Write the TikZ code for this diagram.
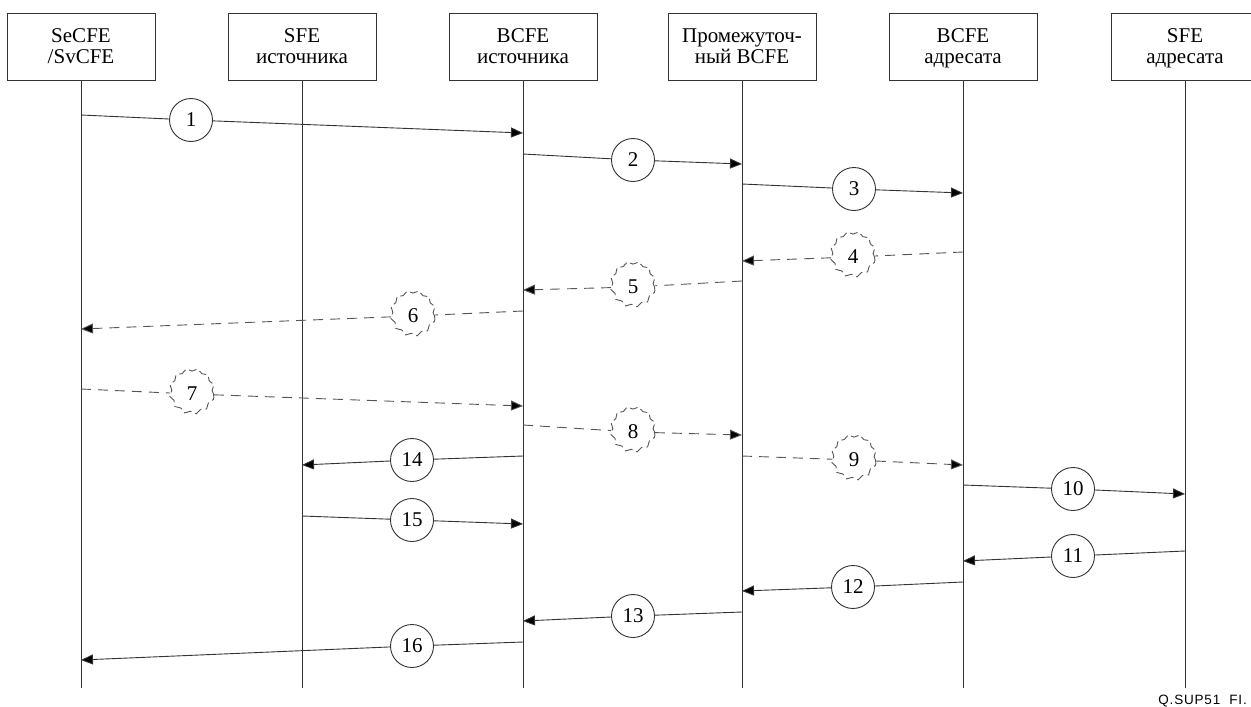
\documentclass[tikz,border=0pt]{standalone}
\usepackage{fontspec}
\setmainfont{Liberation Serif}
\newfontfamily\labfont[LetterSpace=6]{Liberation Sans}
\usetikzlibrary{arrows.meta,decorations.pathmorphing}
\definecolor{ln}{HTML}{333333}
\definecolor{dl}{HTML}{555555}
\newcommand{\twoline}[2]{\rule{0pt}{18.7pt}#1\\\strut #2}
\tikzset{
  ent/.style={draw=ln, line width=0.9pt, minimum width=148pt, minimum height=67pt, inner sep=0pt, align=center, font=\fontsize{21}{21}\selectfont},
  life/.style={draw=ln, line width=0.9pt},
  num/.style={circle, draw=ln, line width=0.9pt, minimum size=43pt, inner sep=0pt, font=\fontsize{21}{21}\selectfont},
  dnum/.style={circle, draw=dl, line width=0.9pt, minimum size=43pt, inner sep=0pt, font=\fontsize{21}{21}\selectfont, dash pattern=on 8pt off 4pt, decorate, decoration={snake, amplitude=1.4pt, segment length=11pt}},
  msg/.style={draw=ln, line width=0.9pt},
  dmsg/.style={draw=dl, line width=0.9pt, dash pattern=on 10pt off 7pt},
  tip/.style={-{Triangle[length=12pt,width=10pt,fill=black]}},
}
\begin{document}
\begin{tikzpicture}[x=1pt,y=-1pt]
\useasboundingbox (0,0) rectangle (1251,707);
% entities
\node[ent] (b1) at (81,46.5) {\twoline{SeCFE}{/SvCFE}};
\node[ent] (b2) at (302,46.5) {\twoline{SFE}{источника}};
\node[ent] (b3) at (523,46.5) {\twoline{BCFE}{источника}};
\node[ent] (b4) at (742,46.5) {\twoline{Промежуточ-}{ный BCFE}};
\node[ent] (b5) at (963,46.5) {\twoline{BCFE}{адресата}};
\node[ent] (b6) at (1185,46.5) {\twoline{SFE}{адресата}};
% lifeline ends
\coordinate (l1) at (81,688);
\coordinate (l2) at (302,688);
\coordinate (l3) at (523,688);
\coordinate (l4) at (742,688);
\coordinate (l5) at (963,688);
\coordinate (l6) at (1185,688);
\draw[life] (b1.south) -- (l1);
\draw[life] (b2.south) -- (l2);
\draw[life] (b3.south) -- (l3);
\draw[life] (b4.south) -- (l4);
\draw[life] (b5.south) -- (l5);
\draw[life] (b6.south) -- (l6);
% message 1
\coordinate (s1) at (81,115); \coordinate (e1) at (523,133);
\node[num] (c1) at (191,120) {1};
\draw[msg] (s1) -- (c1); \draw[msg,tip] (c1) -- (e1);
% 2
\coordinate (s2) at (523,154); \coordinate (e2) at (742,164);
\node[num] (c2) at (633,160) {2};
\draw[msg] (s2) -- (c2); \draw[msg,tip] (c2) -- (e2);
% 3
\coordinate (s3) at (742,184); \coordinate (e3) at (963,193);
\node[num] (c3) at (854,189) {3};
\draw[msg] (s3) -- (c3); \draw[msg,tip] (c3) -- (e3);
% 4 dashed
\coordinate (s4) at (963,252); \coordinate (e4) at (742,261);
\node[dnum] (c4) at (853,257) {4};
\draw[dmsg] (s4) -- (c4); \draw[dmsg,tip] (c4) -- (e4);
% 5
\coordinate (s5) at (742,281); \coordinate (e5) at (523,290);
\node[dnum] (c5) at (633,287) {5};
\draw[dmsg] (s5) -- (c5); \draw[dmsg,tip] (c5) -- (e5);
% 6
\coordinate (s6) at (523,311); \coordinate (e6) at (81,329);
\node[dnum] (c6) at (413,316) {6};
\draw[dmsg] (s6) -- (c6); \draw[dmsg,tip] (c6) -- (e6);
% 7
\coordinate (s7) at (81,389); \coordinate (e7) at (523,406);
\node[dnum] (c7) at (192,394) {7};
\draw[dmsg] (s7) -- (c7); \draw[dmsg,tip] (c7) -- (e7);
% 8
\coordinate (s8) at (523,425); \coordinate (e8) at (742,435);
\node[dnum] (c8) at (633,432) {8};
\draw[dmsg] (s8) -- (c8); \draw[dmsg,tip] (c8) -- (e8);
% 9
\coordinate (s9) at (742,456); \coordinate (e9) at (963,465);
\node[dnum] (c9) at (854,460) {9};
\draw[dmsg] (s9) -- (c9); \draw[dmsg,tip] (c9) -- (e9);
% 14
\coordinate (s14) at (523,456); \coordinate (e14) at (302,465);
\node[num] (c14) at (412,460) {14};
\draw[msg] (s14) -- (c14); \draw[msg,tip] (c14) -- (e14);
% 15
\coordinate (s15) at (302,516); \coordinate (e15) at (523,524);
\node[num] (c15) at (412,520) {15};
\draw[msg] (s15) -- (c15); \draw[msg,tip] (c15) -- (e15);
% 10
\coordinate (s10) at (963,485); \coordinate (e10) at (1185,494);
\node[num] (c10) at (1073,489) {10};
\draw[msg] (s10) -- (c10); \draw[msg,tip] (c10) -- (e10);
% 11
\coordinate (s11) at (1185,551); \coordinate (e11) at (963,561);
\node[num] (c11) at (1073,556) {11};
\draw[msg] (s11) -- (c11); \draw[msg,tip] (c11) -- (e11);
% 12
\coordinate (s12) at (963,582); \coordinate (e12) at (742,591);
\node[num] (c12) at (853,587) {12};
\draw[msg] (s12) -- (c12); \draw[msg,tip] (c12) -- (e12);
% 13
\coordinate (s13) at (742,612); \coordinate (e13) at (523,621);
\node[num] (c13) at (633,616) {13};
\draw[msg] (s13) -- (c13); \draw[msg,tip] (c13) -- (e13);
% 16
\coordinate (s16) at (523,642); \coordinate (e16) at (81,660);
\node[num] (c16) at (412,646) {16};
\draw[msg] (s16) -- (c16); \draw[msg,tip] (c16) -- (e16);
% figure label
\node[anchor=base east, inner sep=0pt, font=\labfont\fontsize{13.5}{14}\selectfont] (fig) at (1247,704) {Q.SUP51\ \ FI.};
\end{tikzpicture}
\end{document}
